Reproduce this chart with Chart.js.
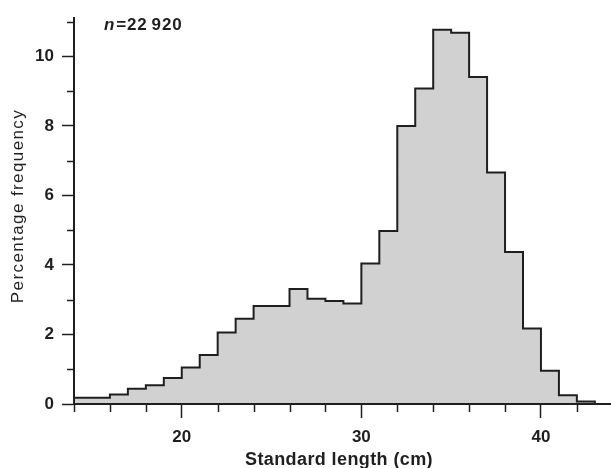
<!DOCTYPE html>
<html>
<head>
<meta charset="utf-8">
<title>Standard length frequency</title>
<script src="https://cdn.jsdelivr.net/npm/chart.js@4.4.1/dist/chart.umd.min.js"></script>
<style>
  html, body { margin: 0; padding: 0; background: #ffffff; }
  #wrap { width: 611px; height: 468px; }
</style>
</head>
<body>
<div id="wrap"><canvas id="chart" width="611" height="468"></canvas></div>
<script>
// Length classes (left edge of each 1 cm class, cm)
const binStarts = [14, 15, 16, 17, 18, 19, 20, 21, 22, 23, 24, 25, 26, 27, 28,
                   29, 30, 31, 32, 33, 34, 35, 36, 37, 38, 39, 40, 41, 42];
const lastBinEnd = 43;

// Percentage of fish in each length class
const percentFreq = [0.18, 0.18, 0.27, 0.44, 0.54, 0.75, 1.05, 1.41, 2.06, 2.45,
                     2.82, 2.82, 3.31, 3.03, 2.96, 2.89, 4.04, 4.98, 8.00, 9.08,
                     10.77, 10.68, 9.41, 6.66, 4.37, 2.17, 0.96, 0.25, 0.07];

// Axis ticks
const xTickValues = [14, 16, 18, 20, 22, 24, 26, 28, 30, 32, 34, 36, 38, 40, 42];
const xLabelValues = [20, 30, 40];
const yTickValues = [0, 1, 2, 3, 4, 5, 6, 7, 8, 9, 10, 11];
const yLabelValues = [0, 2, 4, 6, 8, 10];

const xTitle = 'Standard length (cm)';
const yTitle = 'Percentage frequency';
const sampleSize = '22\u2009920';

const INK = '#1f1f1f';

// Outline points: each class value sits at its left edge (the line holds the value
// across the class, then steps); the last class closes down to the baseline
const outline = binStarts.map((x, i) => ({ x: x, y: percentFreq[i] }));
outline.push({ x: lastBinEnd, y: 0 });

// Short minor tick marks (the long major ones are drawn by the scales)
const minorTicks = {
  id: 'minorTicks',
  afterDraw(chart) {
    const { ctx, chartArea, scales } = chart;
    ctx.save();
    ctx.strokeStyle = INK;
    ctx.lineWidth = 1.5;
    xTickValues.filter(v => !xLabelValues.includes(v)).forEach(v => {
      const px = Math.round(scales.x.getPixelForValue(v)) + 0.5;
      ctx.beginPath();
      ctx.moveTo(px, chartArea.bottom);
      ctx.lineTo(px, chartArea.bottom + 8);
      ctx.stroke();
    });
    yTickValues.filter(v => !yLabelValues.includes(v)).forEach(v => {
      const py = Math.round(scales.y.getPixelForValue(v)) + 0.5;
      ctx.beginPath();
      ctx.moveTo(chartArea.left - 7, py);
      ctx.lineTo(chartArea.left, py);
      ctx.stroke();
    });
    ctx.restore();
  }
};

// Axis titles and the sample-size note, with the loose tracking of the typeset figure
const figureText = {
  id: 'figureText',
  afterDraw(chart) {
    const { ctx, chartArea } = chart;
    ctx.save();
    ctx.fillStyle = INK;

    ctx.letterSpacing = '0.4px';
    ctx.font = 'bold 18px "Liberation Sans", Arial, sans-serif';
    ctx.textAlign = 'center';
    ctx.textBaseline = 'middle';
    ctx.fillText(xTitle, 339, 460);

    ctx.save();
    ctx.letterSpacing = '1.4px';
    ctx.font = '17px "Liberation Sans", Arial, sans-serif';
    ctx.translate(18, 206);
    ctx.rotate(-Math.PI / 2);
    ctx.fillText(yTitle, 0, 0);
    ctx.restore();

    ctx.textAlign = 'left';
    ctx.textBaseline = 'alphabetic';
    ctx.letterSpacing = '0.8px';
    ctx.font = 'italic bold 17px "Liberation Sans", Arial, sans-serif';
    const nx = chartArea.left + 30;
    ctx.fillText('n', nx, 30);
    const nw = ctx.measureText('n').width;
    ctx.font = 'bold 17px "Liberation Sans", Arial, sans-serif';
    ctx.fillText('=' + sampleSize, nx + nw + 1, 30);
    ctx.restore();
  }
};

new Chart(document.getElementById('chart'), {
  type: 'line',
  data: {
    datasets: [{
      data: outline,
      stepped: 'before',
      borderColor: INK,
      borderWidth: 2,
      backgroundColor: '#d1d1d1',
      fill: 'origin',
      pointRadius: 0,
      tension: 0
    }]
  },
  options: {
    responsive: false,
    animation: false,
    devicePixelRatio: 1,
    layout: { padding: { top: 11, right: 0, bottom: 0, left: 0 } },
    plugins: {
      legend: { display: false },
      tooltip: { enabled: false }
    },
    scales: {
      x: {
        type: 'linear',
        position: 'bottom',
        min: 14,
        max: 43.9,
        afterBuildTicks: s => { s.ticks = xTickValues.map(v => ({ value: v })); },
        afterFit: s => { s.height = 64; },
        ticks: {
          autoSkip: false,
          maxRotation: 0,
          padding: 9,
          color: INK,
          font: { family: '"Liberation Sans", Arial, sans-serif', size: 17, weight: 'bold' },
          callback: v => xLabelValues.includes(v) ? String(v) : ''
        },
        grid: {
          drawOnChartArea: false,
          tickLength: 14,
          tickWidth: 1.5,
          tickColor: c => xLabelValues.includes(c.tick.value) ? INK : 'rgba(0,0,0,0)'
        },
        border: { color: INK, width: 2, z: 1 }
      },
      y: {
        type: 'linear',
        min: 0,
        max: 11.1,
        afterBuildTicks: s => { s.ticks = yTickValues.map(v => ({ value: v })); },
        afterFit: s => { s.width = 74; },
        ticks: {
          autoSkip: false,
          padding: 8,
          color: INK,
          font: { family: '"Liberation Sans", Arial, sans-serif', size: 17, weight: 'bold' },
          callback: v => yLabelValues.includes(v) ? String(v) : ''
        },
        grid: {
          drawOnChartArea: false,
          tickLength: 12,
          tickWidth: 1.5,
          tickColor: c => yLabelValues.includes(c.tick.value) ? INK : 'rgba(0,0,0,0)'
        },
        border: { color: INK, width: 2, z: 1 }
      }
    }
  },
  plugins: [minorTicks, figureText]
});
</script>
</body>
</html>
